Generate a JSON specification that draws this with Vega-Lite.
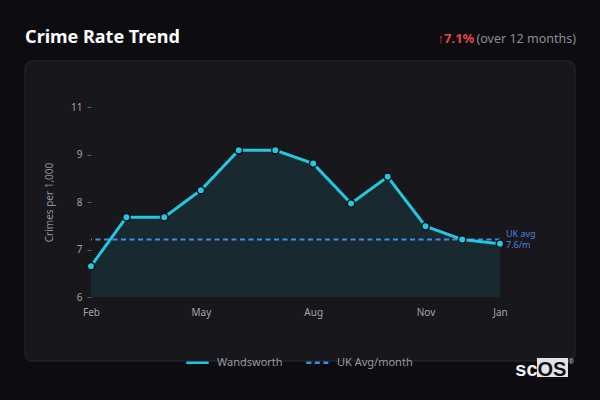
{
  "$schema": "https://vega.github.io/schema/vega-lite/v6.json",
  "width": 409,
  "height": 190,
  "autosize": {"type": "none"},
  "padding": {"left": 91, "top": 107, "right": 100, "bottom": 103},
  "background": "#0d0c11",
  "config": {
    "font": "Noto Sans",
    "view": {"stroke": null},
    "axis": {
      "labelColor": "#a3a3a8",
      "labelFontSize": 10,
      "titleColor": "#8f8f95",
      "titleFontSize": 10,
      "titleFontWeight": "normal",
      "domain": false
    },
    "legend": {
      "labelColor": "#9a9aa0",
      "labelFontSize": 11,
      "symbolStrokeWidth": 2.5
    }
  },
  "datasets": {
    "trend": [
      {"month": "2024-02-01", "rate": 6.65, "series": "Wandsworth"},
      {"month": "2024-03-01", "rate": 7.68, "series": "Wandsworth"},
      {"month": "2024-04-01", "rate": 7.68, "series": "Wandsworth"},
      {"month": "2024-05-01", "rate": 8.25, "series": "Wandsworth"},
      {"month": "2024-06-01", "rate": 9.09, "series": "Wandsworth"},
      {"month": "2024-07-01", "rate": 9.09, "series": "Wandsworth"},
      {"month": "2024-08-01", "rate": 8.81, "series": "Wandsworth"},
      {"month": "2024-09-01", "rate": 7.97, "series": "Wandsworth"},
      {"month": "2024-10-01", "rate": 8.53, "series": "Wandsworth"},
      {"month": "2024-11-01", "rate": 7.49, "series": "Wandsworth"},
      {"month": "2024-12-01", "rate": 7.21, "series": "Wandsworth"},
      {"month": "2025-01-01", "rate": 7.12, "series": "Wandsworth"}
    ],
    "ukavg": [
      {"series": "UK Avg/month", "avg": 7.21}
    ],
    "one": [{}]
  },
  "layer": [
    {
      "data": {"name": "one"},
      "mark": {"type": "rect", "fill": "#18181c", "stroke": "#2b2b31", "strokeWidth": 1, "cornerRadius": 7},
      "encoding": {
        "x": {
          "datum": {"year": 2023, "month": 12, "date": 9, "utc": true},
          "type": "temporal",
          "scale": {"type": "utc", "domain": [{"year": 2024, "month": 2, "date": 1, "utc": true}, {"year": 2025, "month": 1, "date": 1, "utc": true}]},
          "axis": {
            "title": null,
            "values": [
              {"year": 2024, "month": 2, "date": 1, "utc": true},
              {"year": 2024, "month": 5, "date": 1, "utc": true},
              {"year": 2024, "month": 8, "date": 1, "utc": true},
              {"year": 2024, "month": 11, "date": 1, "utc": true},
              {"year": 2025, "month": 1, "date": 1, "utc": true}
            ],
            "format": "%b",
            "ticks": false,
            "grid": false,
            "labelFlush": false,
            "labelPadding": 10,
            "zindex": 1
          }
        },
        "x2": {"datum": {"year": 2025, "month": 3, "date": 3, "hours": 10, "utc": true}},
        "y": {
          "datum": 10.968,
          "type": "quantitative",
          "scale": {"domain": [6, 10]},
          "axis": {
            "title": "Crimes per 1,000",
            "values": [6, 7, 8, 9, 10],
            "labelExpr": "datum.value == 10 ? '11' : datum.label",
            "tickSize": 4,
            "tickColor": "#5a5a60",
            "labelPadding": 5,
            "titlePadding": 16,
            "gridColor": "#3a3a42",
            "gridDash": [3, 3],
            "zindex": 1
          }
        },
        "y2": {"datum": 4.653}
      }
    },
    {
      "data": {"name": "trend"},
      "mark": {"type": "area", "color": "#22c8e0", "opacity": 0.1},
      "encoding": {
        "x": {"field": "month", "type": "temporal", "scale": {"type": "utc", "domain": [{"year": 2024, "month": 2, "date": 1, "utc": true}, {"year": 2025, "month": 1, "date": 1, "utc": true}]}},
        "y": {"field": "rate", "type": "quantitative", "scale": {"domain": [6, 10]}},
        "y2": {"datum": 6}
      }
    },
    {
      "data": {"name": "ukavg"},
      "mark": {"type": "rule", "strokeWidth": 2},
      "encoding": {
        "y": {"field": "avg", "type": "quantitative", "scale": {"domain": [6, 10]}},
        "color": {
          "field": "series",
          "type": "nominal",
          "title": null,
          "scale": {"domain": ["Wandsworth", "UK Avg/month"], "range": ["#22c8e0", "#3b8eea"]},
          "legend": {
            "orient": "none",
            "direction": "horizontal",
            "legendX": 94,
            "legendY": 243,
            "symbolType": "stroke",
            "symbolSize": 500,
            "columnPadding": 18,
            "labelOffset": 7
          }
        },
        "strokeDash": {
          "field": "series",
          "type": "nominal",
          "title": null,
          "scale": {"domain": ["Wandsworth", "UK Avg/month"], "range": [[1, 0], [5, 3.5]]}
        }
      }
    },
    {
      "data": {"name": "trend"},
      "mark": {"type": "line", "strokeWidth": 3},
      "encoding": {
        "x": {"field": "month", "type": "temporal", "scale": {"type": "utc", "domain": [{"year": 2024, "month": 2, "date": 1, "utc": true}, {"year": 2025, "month": 1, "date": 1, "utc": true}]}},
        "y": {"field": "rate", "type": "quantitative", "scale": {"domain": [6, 10]}},
        "color": {"field": "series", "type": "nominal", "title": null},
        "strokeDash": {"field": "series", "type": "nominal", "title": null}
      }
    },
    {
      "data": {"name": "trend"},
      "mark": {"type": "circle", "size": 55, "color": "#22c8e0", "opacity": 1, "stroke": "#0f0f12", "strokeWidth": 1.5},
      "encoding": {
        "x": {"field": "month", "type": "temporal", "scale": {"type": "utc", "domain": [{"year": 2024, "month": 2, "date": 1, "utc": true}, {"year": 2025, "month": 1, "date": 1, "utc": true}]}},
        "y": {"field": "rate", "type": "quantitative", "scale": {"domain": [6, 10]}}
      }
    },
    {
      "data": {"name": "ukavg"},
      "mark": {"type": "text", "text": ["UK avg", "7.6/m"], "align": "left", "baseline": "middle", "dx": 6, "dy": -6, "fontSize": 9, "lineHeight": 11.5, "color": "#4f80dc"},
      "encoding": {
        "x": {"datum": {"year": 2025, "month": 1, "date": 1, "utc": true}, "type": "temporal", "scale": {"type": "utc", "domain": [{"year": 2024, "month": 2, "date": 1, "utc": true}, {"year": 2025, "month": 1, "date": 1, "utc": true}]}},
        "y": {"field": "avg", "type": "quantitative", "scale": {"domain": [6, 10]}}
      }
    },
    {
      "data": {"name": "one"},
      "mark": {"type": "text", "text": "Crime Rate Trend", "align": "left", "baseline": "alphabetic", "fontSize": 18, "fontWeight": "bold", "color": "#ffffff"},
      "encoding": {
        "x": {"datum": {"year": 2023, "month": 12, "date": 9, "utc": true}, "type": "temporal", "scale": {"type": "utc", "domain": [{"year": 2024, "month": 2, "date": 1, "utc": true}, {"year": 2025, "month": 1, "date": 1, "utc": true}]}},
        "y": {"datum": 11.35, "type": "quantitative", "scale": {"domain": [6, 10]}}
      }
    },
    {
      "data": {"name": "one"},
      "mark": {"type": "text", "text": "(over 12 months)", "align": "right", "baseline": "alphabetic", "fontSize": 12.5, "color": "#8c8c92"},
      "encoding": {
        "x": {"datum": {"year": 2025, "month": 3, "date": 4, "hours": 5, "utc": true}, "type": "temporal", "scale": {"type": "utc", "domain": [{"year": 2024, "month": 2, "date": 1, "utc": true}, {"year": 2025, "month": 1, "date": 1, "utc": true}]}},
        "y": {"datum": 11.35, "type": "quantitative", "scale": {"domain": [6, 10]}}
      }
    },
    {
      "data": {"name": "one"},
      "mark": {"type": "text", "text": "↑7.1%", "align": "right", "baseline": "alphabetic", "fontSize": 13, "fontWeight": "bold", "color": "#e04848"},
      "encoding": {
        "x": {"datum": {"year": 2024, "month": 12, "date": 11, "utc": true}, "type": "temporal", "scale": {"type": "utc", "domain": [{"year": 2024, "month": 2, "date": 1, "utc": true}, {"year": 2025, "month": 1, "date": 1, "utc": true}]}},
        "y": {"datum": 11.35, "type": "quantitative", "scale": {"domain": [6, 10]}}
      }
    },
    {
      "data": {"name": "one"},
      "mark": {"type": "rect", "fill": "#e4e4e6"},
      "encoding": {
        "x": {"datum": {"year": 2025, "month": 1, "date": 31, "hours": 7, "utc": true}, "type": "temporal", "scale": {"type": "utc", "domain": [{"year": 2024, "month": 2, "date": 1, "utc": true}, {"year": 2025, "month": 1, "date": 1, "utc": true}]}},
        "x2": {"datum": {"year": 2025, "month": 2, "date": 25, "hours": 17, "utc": true}},
        "y": {"datum": 4.716, "type": "quantitative", "scale": {"domain": [6, 10]}},
        "y2": {"datum": 4.316}
      }
    },
    {
      "data": {"name": "one"},
      "mark": {"type": "text", "text": "sc", "align": "left", "baseline": "alphabetic", "fontSize": 20, "fontWeight": "bold", "font": "Liberation Sans", "color": "#f2f2f2"},
      "encoding": {
        "x": {"datum": {"year": 2025, "month": 1, "date": 13, "hours": 12, "utc": true}, "type": "temporal", "scale": {"type": "utc", "domain": [{"year": 2024, "month": 2, "date": 1, "utc": true}, {"year": 2025, "month": 1, "date": 1, "utc": true}]}},
        "y": {"datum": 4.337, "type": "quantitative", "scale": {"domain": [6, 10]}}
      }
    },
    {
      "data": {"name": "one"},
      "mark": {"type": "text", "text": "OS", "align": "center", "baseline": "alphabetic", "fontSize": 20, "fontWeight": "bold", "font": "Liberation Sans", "color": "#111114"},
      "encoding": {
        "x": {"datum": {"year": 2025, "month": 2, "date": 12, "hours": 14, "utc": true}, "type": "temporal", "scale": {"type": "utc", "domain": [{"year": 2024, "month": 2, "date": 1, "utc": true}, {"year": 2025, "month": 1, "date": 1, "utc": true}]}},
        "y": {"datum": 4.337, "type": "quantitative", "scale": {"domain": [6, 10]}}
      }
    },
    {
      "data": {"name": "one"},
      "mark": {"type": "text", "text": "®", "align": "center", "baseline": "middle", "fontSize": 7, "color": "#bbbbbb"},
      "encoding": {
        "x": {"datum": {"year": 2025, "month": 2, "date": 28, "hours": 5, "utc": true}, "type": "temporal", "scale": {"type": "utc", "domain": [{"year": 2024, "month": 2, "date": 1, "utc": true}, {"year": 2025, "month": 1, "date": 1, "utc": true}]}},
        "y": {"datum": 4.64, "type": "quantitative", "scale": {"domain": [6, 10]}}
      }
    }
  ]
}
